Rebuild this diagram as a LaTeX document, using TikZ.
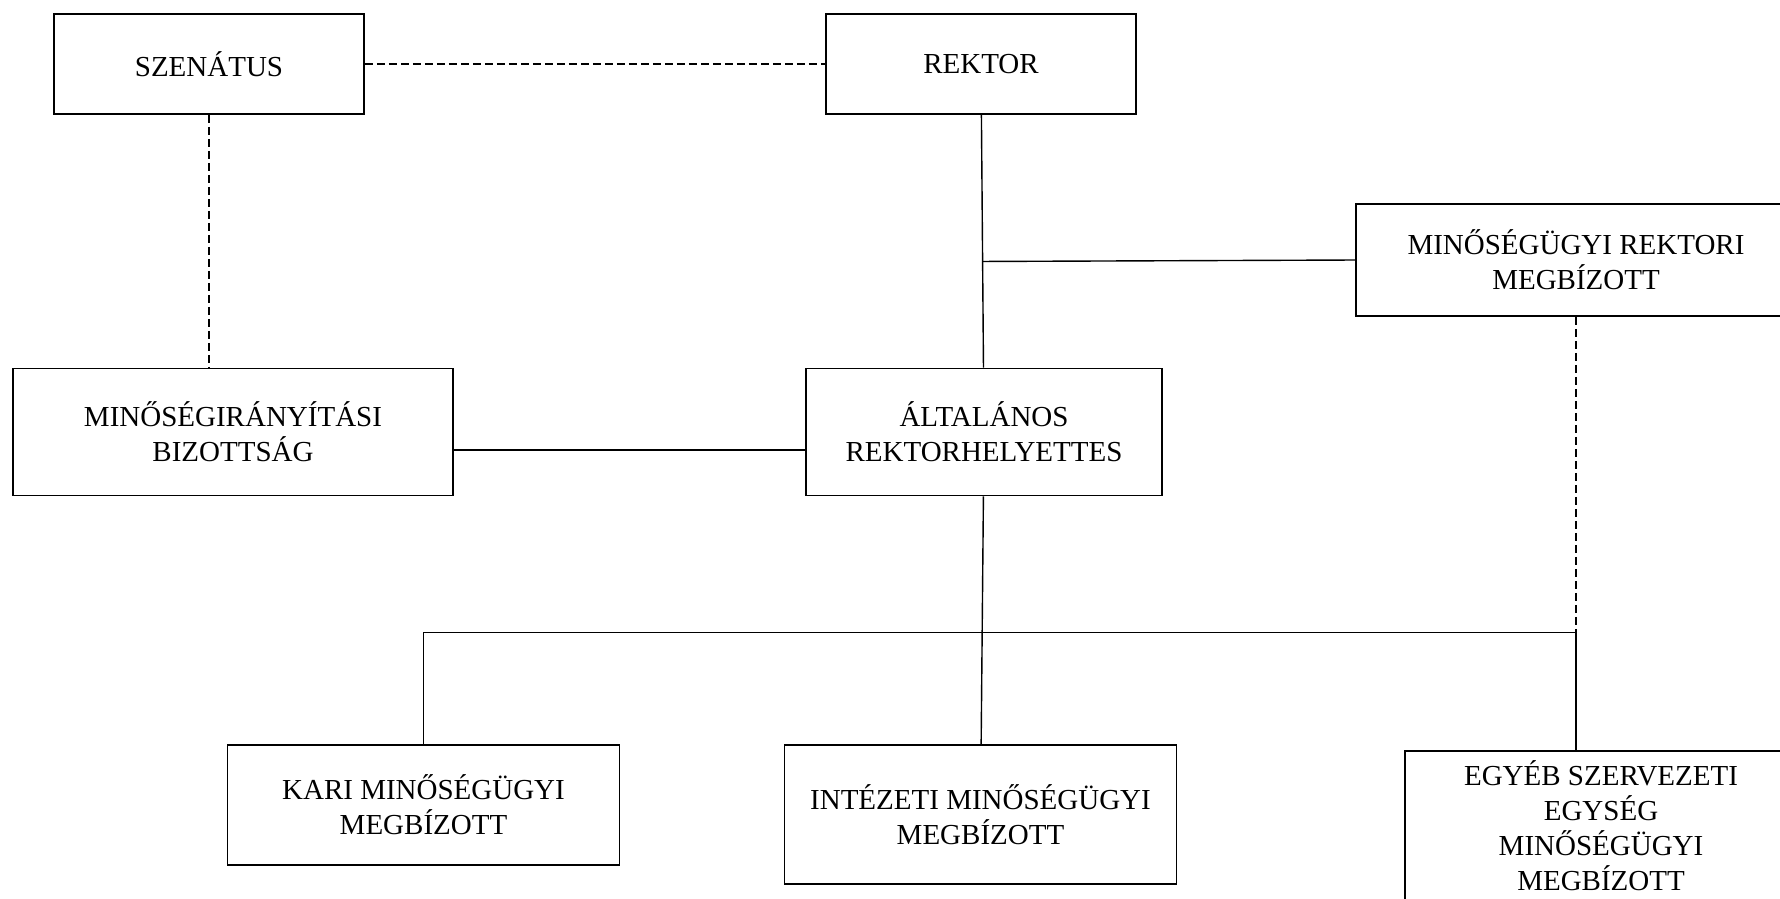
\documentclass[tikz,border=0pt]{standalone}
\usepackage{fontspec}
\setmainfont{Liberation Serif}
\usetikzlibrary{calc}

\begin{document}
\begin{tikzpicture}[x=1pt, y=-1pt]
\tikzstyle{main}=[rectangle, draw=black, line width=1.8pt, node distance=368pt, align=center, inner sep=2pt, font=\fontsize{29}{35}\selectfont]
\tikzstyle{top}=[main, minimum width=310, minimum height=100]
\tikzstyle{mid}=[main, minimum height=127]
\tikzstyle{low}=[main, minimum width=392]
\tikzstyle{connect}=[line width=1.4pt]
\tikzstyle{dashline}=[line width=1.2pt, dash pattern=on 8pt off 4pt]

  \useasboundingbox (0,0) rectangle (1780,898);
  \clip (0,0) rectangle (1780,898);

  \node[top] (rektor) at (981,64) {REKTOR};
  \node[top] (szenatus)   [left of =rektor,   xshift=-404]             {SZENÁTUS};
  \node[mid, minimum width=356] (altalanos) [below of =rektor, xshift=3] {ÁLTALÁNOS\\REKTORHELYETTES};
  \node[mid, minimum width=440] (bizottsag) [below of =szenatus, xshift=24] {MINŐSÉGIRÁNYÍTÁSI\\BIZOTTSÁG};
  \node[main, minimum width=440, minimum height=112] (rektori) [right of =rektor, xshift=227, yshift=-196] {MINŐSÉGÜGYI REKTORI\\MEGBÍZOTT};

  \node[low, minimum height=120] (kari)     [below of =bizottsag, xshift=190.5, yshift=-5]    {KARI MINŐSÉGÜGYI\\MEGBÍZOTT};
  \node[low, minimum height=139] (intezeti) [below of =altalanos, xshift=-3.5, yshift=-14.5]  {INTÉZETI MINŐSÉGÜGYI\\MEGBÍZOTT};
  \node[low, minimum height=149] (egyeb)    [below of =rektori,   xshift=25,   yshift=-197.5] {EGYÉB SZERVEZETI\\EGYSÉG\\MINŐSÉGÜGYI\\MEGBÍZOTT};

  \coordinate (rj)  at ($(rektor.south)!0.58!(altalanos.north)$);
  \coordinate (bus) at ($(altalanos.south)!0.55!(intezeti.north)$);

  \path (szenatus) edge [dashline] (rektor);
  \path (szenatus.south) edge [dashline] (szenatus.south |- bizottsag.north);
  \path (rektor) edge [connect] (altalanos);
  \path (rj) edge [connect] (rektori.west);
  \path ([yshift=-18pt]bizottsag.east) edge [connect] ([yshift=-18pt]altalanos.west);
  \path (altalanos) edge [connect] (intezeti);
  \draw[connect] (kari.north) |- (bus) -- (bus -| rektori.south) -- (rektori.south |- egyeb.north);
  \path (rektori.south) edge [dashline] (bus -| rektori.south);

\end{tikzpicture}
\end{document}
